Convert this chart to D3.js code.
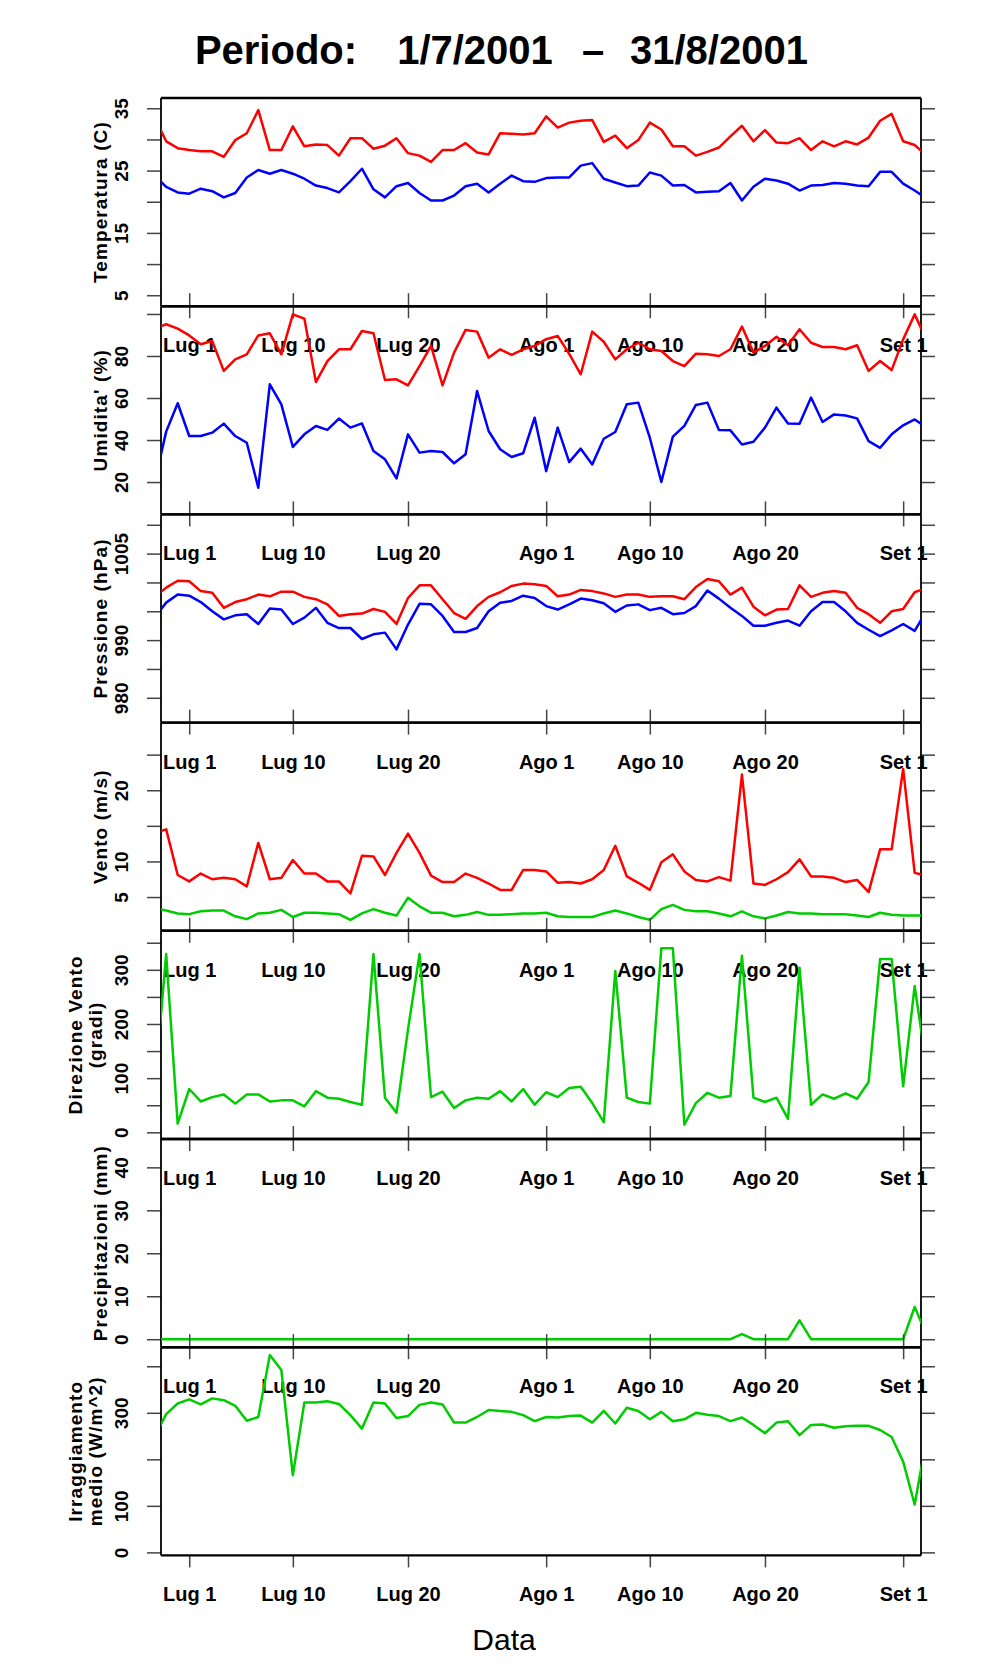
<!DOCTYPE html>
<html>
<head>
<meta charset="utf-8">
<script src="https://cdn.jsdelivr.net/npm/d3@7"></script>
<style>
  body { margin: 0; background: #fff; }
  svg text { font-family: "Liberation Sans", Arial, Helvetica, sans-serif; }
</style>
</head>
<body>
<svg id="chart" width="996" height="1680"></svg>
<script>
// one value per day, from 28 Jun 2001 to 3 Sep 2001 (first and last are cut by the frame)
const firstDay = new Date(2001, 5, 28)

const tempMax = [33.5, 29.7, 28.6, 28.3, 28.1, 28.1, 27.2, 29.9, 31.0, 34.7, 28.3, 28.3, 32.1, 28.9, 29.2, 29.1, 27.4,
  30.2, 30.2, 28.5, 29.0, 30.2, 27.8, 27.4, 26.4, 28.3, 28.3, 29.4, 27.9, 27.6, 31.0, 30.9, 30.8, 31.0, 33.7, 31.9,
  32.7, 33.0, 33.1, 29.6, 30.6, 28.6, 29.9, 32.7, 31.6, 28.9, 28.9, 27.4, 28.0, 28.7, 30.5, 32.2, 29.7, 31.5, 29.5,
  29.4, 30.2, 28.3, 29.7, 28.9, 29.7, 29.2, 30.3, 33.0, 34.1, 29.7, 29.1, 27.5]
const tempMin = [24.2, 22.4, 21.5, 21.3, 22.1, 21.7, 20.7, 21.4, 23.9, 25.1, 24.5, 25.1, 24.5, 23.7, 22.6, 22.2, 21.5,
  23.3, 25.3, 22.0, 20.7, 22.5, 23.0, 21.4, 20.2, 20.2, 21.0, 22.5, 22.9, 21.5, 22.9, 24.2, 23.3, 23.2, 23.8, 23.9,
  23.9, 25.8, 26.2, 23.7, 23.1, 22.5, 22.6, 24.7, 24.2, 22.6, 22.7, 21.5, 21.6, 21.7, 23.0, 20.2, 22.4, 23.7, 23.4,
  22.9, 21.8, 22.6, 22.7, 23.0, 22.9, 22.6, 22.5, 24.8, 24.8, 22.9, 21.8, 20.6]
const humMax = [93, 95.1, 93.0, 89.8, 85.6, 87.1, 72.9, 78.4, 80.8, 89.8, 90.8, 80.8, 99.8, 97.8, 67.6, 77.6, 83.2,
  83.2, 91.9, 90.8, 68.6, 68.9, 66.0, 75.2, 84.8, 66.0, 81.6, 92.4, 91.6, 79.2, 83.2, 80.5, 83.2, 84.8, 88.0, 89.5,
  81.0, 71.3, 91.6, 86.8, 78.4, 83.2, 86.3, 83.2, 82.4, 77.6, 75.2, 81.1, 80.8, 80.0, 83.2, 94.0, 81.6, 84.8, 89.2,
  85.1, 92.7, 86.3, 84.3, 84.3, 83.2, 85.1, 72.9, 77.6, 73.3, 87.9, 99.8, 88]
const humMin = [20, 44.0, 57.5, 41.9, 41.9, 43.5, 47.8, 41.9, 38.7, 17.3, 66.5, 57.0, 36.7, 42.7, 46.7, 44.8, 50.2,
  45.9, 47.9, 34.8, 30.8, 21.7, 42.7, 34.0, 34.8, 34.3, 28.9, 33.2, 63.3, 44.3, 35.6, 31.9, 33.7, 50.6, 25.2, 45.9,
  29.5, 35.9, 28.4, 40.6, 43.8, 57.0, 57.8, 41.1, 20.0, 41.6, 46.7, 56.7, 57.8, 44.8, 44.6, 37.9, 39.2, 45.9, 55.4,
  47.9, 47.8, 60.2, 48.6, 52.2, 51.7, 50.3, 39.5, 36.3, 42.7, 47.0, 49.8, 46]
const pressMax = [997.5, 999.1, 1000.3, 1000.2, 998.5, 998.2, 995.6, 996.6, 997.1, 997.9, 997.6, 998.4, 998.4, 997.5,
  997.1, 996.2, 994.2, 994.5, 994.6, 995.4, 994.9, 992.8, 997.3, 999.5, 999.5, 997.1, 994.7, 993.7, 995.9, 997.5,
  998.3, 999.4, 999.8, 999.7, 999.4, 997.6, 997.9, 998.7, 998.5, 998.1, 997.5, 997.9, 997.9, 997.5, 997.6, 997.6,
  997.1, 999.2, 1000.6, 1000.2, 997.9, 999.1, 995.8, 994.3, 995.3, 995.4, 999.5, 997.5, 998.2, 998.5, 998.2, 995.6,
  994.5, 993.0, 995.0, 995.4, 998.3, 999.0]
const pressMin = [994, 996.5, 997.9, 997.7, 996.6, 995.0, 993.6, 994.3, 994.5, 992.8, 995.5, 995.3, 992.8, 993.9,
  995.6, 993.0, 992.1, 992.1, 990.2, 991.0, 991.3, 988.4, 992.7, 996.3, 996.2, 994.2, 991.4, 991.4, 992.1, 995.0,
  996.5, 996.8, 997.7, 997.3, 995.9, 995.3, 996.2, 997.2, 996.9, 996.4, 994.9, 996.0, 996.2, 995.2, 995.6, 994.5,
  994.7, 995.9, 998.6, 997.2, 995.6, 994.2, 992.5, 992.5, 993.0, 993.4, 992.5, 995.0, 996.6, 996.6, 995.0, 993.0,
  991.8, 990.7, 991.7, 992.8, 991.6, 995.0]
const windMax = [14, 14.5, 8.1, 7.2, 8.3, 7.5, 7.7, 7.5, 6.5, 12.6, 7.5, 7.7, 10.2, 8.3, 8.3, 7.2, 7.2, 5.5, 10.8,
  10.7, 8.1, 11.2, 13.9, 11.2, 8.0, 7.1, 7.1, 8.3, 7.7, 6.9, 6.0, 6.0, 8.8, 8.8, 8.6, 7.0, 7.1, 6.9, 7.5, 8.8, 12.2,
  7.9, 7.0, 6.0, 9.9, 11.0, 8.6, 7.4, 7.2, 7.8, 7.3, 22.2, 6.9, 6.7, 7.5, 8.5, 10.3, 7.9, 7.9, 7.7, 7.1, 7.4, 5.7,
  11.7, 11.7, 23.0, 8.4, 8.0]
const windMean = [3.4, 3.1, 2.7, 2.6, 3.0, 3.1, 3.1, 2.3, 1.9, 2.7, 2.8, 3.2, 2.2, 2.8, 2.8, 2.7, 2.6, 1.8, 2.7, 3.3,
  2.8, 2.4, 4.9, 3.7, 2.8, 2.8, 2.3, 2.5, 2.9, 2.5, 2.5, 2.6, 2.7, 2.7, 2.8, 2.3, 2.2, 2.2, 2.2, 2.7, 3.1, 2.7, 2.2,
  1.8, 3.3, 3.9, 3.2, 3.0, 3.0, 2.7, 2.3, 3.0, 2.3, 2.0, 2.4, 2.9, 2.7, 2.7, 2.6, 2.6, 2.6, 2.4, 2.2, 2.8, 2.5, 2.4,
  2.4, 2.4]
const windDir = [80, 329, 16, 80, 57, 65, 70, 53, 70, 70, 57, 59, 59, 48, 76, 64, 62, 56, 51, 329, 64, 36, 190, 329,
  65, 75, 45, 59, 64, 62, 76, 57, 80, 51, 74, 65, 82, 84, 54, 19, 298, 64, 56, 53, 340, 340, 14, 54, 73, 64, 67, 326,
  64, 56, 64, 25, 304, 51, 70, 62, 72, 62, 93, 320, 320, 85, 270, 125]
const rain = [0, 0, 0, 0, 0, 0, 0, 0, 0, 0, 0, 0, 0, 0, 0, 0, 0, 0, 0, 0, 0, 0, 0, 0, 0, 0, 0, 0, 0, 0, 0, 0, 0, 0,
  0, 0, 0, 0, 0, 0, 0, 0, 0, 0, 0, 0, 0, 0, 0, 0, 0, 1.2, 0, 0, 0, 0, 4.4, 0, 0, 0, 0, 0, 0, 0, 0, 0, 7.5, 1.2]
const radiation = [249, 297, 320, 329, 318, 331, 327, 315, 283, 291, 424, 392, 166, 322, 322, 325, 319, 295, 266, 322,
  320, 289, 293, 317, 322, 318, 279, 279, 291, 306, 304, 302, 295, 282, 291, 290, 293, 294, 279, 304, 277, 311, 304,
  286, 302, 282, 286, 300, 296, 293, 282, 290, 274, 256, 279, 282, 252, 274, 275, 268, 271, 272, 272, 263, 248, 195,
  103, 240]

const tickDates = [new Date(2001, 6, 1), new Date(2001, 6, 10), new Date(2001, 6, 20), new Date(2001, 7, 1),
  new Date(2001, 7, 10), new Date(2001, 7, 20), new Date(2001, 8, 1)]
const tickLabels = ['Lug 1', 'Lug 10', 'Lug 20', 'Ago 1', 'Ago 10', 'Ago 20', 'Set 1']

const tempTicks = [5, 10, 15, 20, 25, 30, 35]
const tempLabels = [5, 15, 25, 35]
const humTicks = [20, 40, 60, 80, 100]
const humLabels = [20, 40, 60, 80]
const pressTicks = [980, 985, 990, 995, 1000, 1005, 1010]
const pressLabels = [980, 990, 1005]
const windTicks = [5, 10, 15, 20, 25]
const windLabels = [5, 10, 20]
const dirTicks = [0, 50, 100, 150, 200, 250, 300, 350]
const dirLabels = [0, 100, 200, 300]
const rainTicks = [0, 10, 20, 30, 40]
const rainLabels = [0, 10, 20, 30, 40]
const radTicks = [0, 100, 200, 300, 400]
const radLabels = [0, 100, 300]

const RED = '#ff0000'
const BLUE = '#0000ff'
const GREEN = '#00cd00'

const panels = [
  { title: ['Temperatura (C)'], domain: [3.24, 36.65], ticks: tempTicks, labels: tempLabels,
    series: [[tempMax, RED], [tempMin, BLUE]] },
  { title: ["Umidita' (%)"], domain: [4.6, 103.7], ticks: humTicks, labels: humLabels,
    series: [[humMax, RED], [humMin, BLUE]] },
  { title: ['Pressione (hPa)'], domain: [975.7, 1011.8], ticks: pressTicks, labels: pressLabels,
    series: [[pressMax, RED], [pressMin, BLUE]] },
  { title: ['Vento (m/s)'], domain: [0.26, 29.5], ticks: windTicks, labels: windLabels,
    series: [[windMax, RED], [windMean, GREEN]] },
  { title: ['Direzione Vento', '(gradi)'], domain: [-12.3, 372], ticks: dirTicks, labels: dirLabels,
    series: [[windDir, GREEN]] },
  { title: ['Precipitazioni (mm)'], domain: [-1.86, 46.6], ticks: rainTicks, labels: rainLabels,
    series: [[rain, GREEN]] },
  { title: ['Irraggiamento', 'medio (W/m^2)'], domain: [-6.5, 441], ticks: radTicks, labels: radLabels,
    series: [[radiation, GREEN]] }
]

const plotLeft = 161
const plotRight = 921
const plotTop = 98
const panelH = 208.2
const tickColor = '#444'

const days = tempMax.map((v, i) => d3.timeDay.offset(firstDay, i))

const x = d3.scaleTime()
  .domain([new Date(2001, 5, 28, 13, 12), new Date(2001, 8, 2, 13, 12)])
  .range([plotLeft, plotRight])

const svg = d3.select('#chart')
svg.append('rect').attr('width', 996).attr('height', 1680).attr('fill', '#fff')

const defs = svg.append('defs')

const styleTicks = (sel) => {
  sel.select('.domain').remove()
  sel.selectAll('.tick line').attr('stroke', tickColor).attr('stroke-width', 1.5)
}

panels.forEach((p, j) => {
  const y0 = plotTop + j * panelH
  const y1 = y0 + panelH
  const y = d3.scaleLinear().domain(p.domain).range([y1, y0])
  const g = svg.append('g')

  defs.append('clipPath').attr('id', `clip-${j}`)
    .append('rect')
    .attr('x', plotLeft).attr('y', y0)
    .attr('width', plotRight - plotLeft).attr('height', panelH)

  // date ticks, labels hang into the next panel
  const xb = g.append('g')
    .attr('transform', `translate(0,${y1})`)
    .call(d3.axisBottom(x).tickValues(tickDates).tickSize(12).tickFormat((d, i) => tickLabels[i]))
  styleTicks(xb)
  xb.attr('font-size', 20)
  xb.selectAll('text')
    .attr('y', 46)
    .attr('dy', null)
    .attr('font-weight', 'bold')
    .attr('fill', '#000')

  if (j > 0) {
    const xt = g.append('g')
      .attr('transform', `translate(0,${y0})`)
      .call(d3.axisTop(x).tickValues(tickDates).tickSize(13).tickFormat(''))
    styleTicks(xt)
  }

  const yl = g.append('g')
    .attr('transform', `translate(${plotLeft},0)`)
    .call(d3.axisLeft(y).tickValues(p.ticks).tickSize(14)
      .tickFormat(d => p.labels.includes(d) ? d : ''))
  styleTicks(yl)
  yl.attr('font-size', 19)
  yl.selectAll('text')
    .attr('x', 0)
    .attr('dy', null)
    .attr('text-anchor', 'middle')
    .attr('font-weight', 'bold')
    .attr('fill', '#000')
    .attr('transform', 'translate(-33,0) rotate(-90)')

  const yr = g.append('g')
    .attr('transform', `translate(${plotRight},0)`)
    .call(d3.axisRight(y).tickValues(p.ticks).tickSize(14).tickFormat(''))
  styleTicks(yr)

  // frame
  g.append('line').attr('x1', plotLeft).attr('x2', plotRight).attr('y1', y0).attr('y2', y0)
    .attr('stroke', '#000').attr('stroke-width', 2.4)
  g.append('line').attr('x1', plotLeft).attr('x2', plotRight).attr('y1', y1).attr('y2', y1)
    .attr('stroke', '#000').attr('stroke-width', 2.4)
  g.append('line').attr('x1', plotLeft).attr('x2', plotLeft).attr('y1', y0).attr('y2', y1)
    .attr('stroke', '#000').attr('stroke-width', 1.8)
  g.append('line').attr('x1', plotRight).attr('x2', plotRight).attr('y1', y0).attr('y2', y1)
    .attr('stroke', '#000').attr('stroke-width', 1.8)

  // y title, one or two lines
  const mid = (y0 + y1) / 2
  const baselines = p.title.length === 1 ? [107] : [82, 102]
  p.title.forEach((t, i) => {
    g.append('text')
      .attr('transform', `translate(${baselines[i]},${mid}) rotate(-90)`)
      .attr('text-anchor', 'middle')
      .attr('font-size', 19)
      .attr('font-weight', 'bold')
      .attr('letter-spacing', 1.1)
      .text(t)
  })

  const line = d3.line()
    .x((d, i) => x(days[i]))
    .y(d => y(d))

  p.series.forEach(([values, color]) => {
    g.append('path')
      .datum(values)
      .attr('clip-path', `url(#clip-${j})`)
      .attr('fill', 'none')
      .attr('stroke', color)
      .attr('stroke-width', 2.5)
      .attr('stroke-linejoin', 'round')
      .attr('d', line)
  })
})

// title pieces
const titleParts = ['Periodo:', '1/7/2001', '–', '31/8/2001']
const titleCenters = [276, 475, 593, 719]
svg.selectAll('.title-part')
  .data(titleParts)
  .join('text')
  .attr('class', 'title-part')
  .attr('x', (d, i) => titleCenters[i])
  .attr('y', 64)
  .attr('text-anchor', 'middle')
  .attr('font-size', 40)
  .attr('font-weight', 'bold')
  .text(d => d)

svg.append('text')
  .attr('x', 504)
  .attr('y', 1650)
  .attr('text-anchor', 'middle')
  .attr('font-size', 30)
  .text('Data')
</script>
</body>
</html>
